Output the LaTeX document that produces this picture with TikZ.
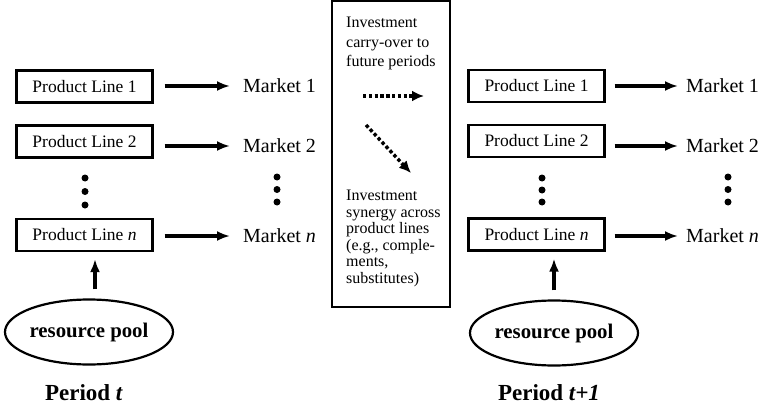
\documentclass[tikz,border=0pt]{standalone}
\usepackage{fontspec}
\setmainfont{Liberation Serif}
\usetikzlibrary{arrows.meta,shapes.geometric}

\tikzset{
  prodbox/.style={draw, line width=2.2pt, minimum width=136pt, minimum height=32pt, inner sep=0pt, font=\fontsize{17.5}{20}\selectfont},
  market/.style={anchor=west, inner sep=0pt, font=\fontsize{20}{22}\selectfont},
  pool/.style={draw, ellipse, line width=2.2pt, minimum width=157pt, minimum height=65pt, inner sep=0pt, font=\fontsize{20.8}{23}\selectfont\bfseries},
  period/.style={inner sep=0pt, font=\fontsize{23}{26}\selectfont\bfseries},
  note/.style={anchor=north west, inner sep=0pt, align=left},
  thickarrow/.style={line width=3.2pt, -{Latex[length=13pt,width=10pt]}},
  dotarrow/.style={line width=3.4pt, dash pattern=on 3.4pt off 2.4pt, -{Latex[length=12pt,width=11pt]}}
}

\begin{document}
\begin{tikzpicture}[x=1pt, y=-1pt]
	\useasboundingbox (0,0) rectangle (767,406);

	% period t
	\node[prodbox] (pla1) at (84.5,86.5) {Product Line 1};
	\node[prodbox] (pla2) at (84.5,141.5) {Product Line 2};
	\node[prodbox] (plan) at (84.5,235) {Product Line \textit{n}};
	\node[market] (ma1) at (243,86) {Market 1};
	\node[market] (ma2) at (243,146) {Market 2};
	\node[market] (man) at (243,236) {Market \textit{n}};
	\draw [thickarrow, shorten <=11pt, shorten >=13pt] (pla1.east |- ma1.west) -- (ma1.west);
	\draw [thickarrow, shorten <=11pt, shorten >=13pt] (pla2.east |- ma2.west) -- (ma2.west);
	\draw [thickarrow, shorten <=11pt, shorten >=13pt] (plan.east |- man.west) -- (man.west);
	\fill (85,178) circle (3.5);
	\fill (85,191.5) circle (3.5);
	\fill (85,205) circle (3.5);
	\fill (277,177) circle (3.5);
	\fill (277,189.5) circle (3.5);
	\fill (277,202) circle (3.5);
	\node[pool] (poola) at (89,332) {resource pool};
	\draw [thickarrow, line width=3.6pt, shorten <=9pt, shorten >=7pt] ([xshift=6pt]poola.north) -- ([xshift=6pt]poola.north |- plan.south);
	\node[period] (pera) at (84,393) {Period \textit{t}};

	% investment box
	\node[draw, line width=2.2pt, minimum width=118pt, minimum height=306pt] (invbox) at (391,154) {};
	\node[note, font=\fontsize{16}{19.5}\selectfont] (carry) at (346,17) {Investment\\carry-over to\\future periods};
	\node[note, font=\fontsize{16}{16.5}\selectfont] (synergy) at (346,190) {Investment\\synergy across\\product lines\\(e.g., comple-\\ments,\\substitutes)};
	\coordinate (ch1) at (363,96);
	\coordinate (ch2) at (424,96);
	\coordinate (cd1) at (366,125);
	\coordinate (cd2) at (411,173);
	\draw [dotarrow] (ch1) -- (ch2);
	\draw [dotarrow] (cd1) -- (cd2);

	% period t+1
	\node[prodbox] (plb1) at (536.5,86) {Product Line 1};
	\node[prodbox] (plb2) at (536.5,141) {Product Line 2};
	\node[prodbox] (plbn) at (536.5,234.5) {Product Line \textit{n}};
	\node[market] (mb1) at (686,86) {Market 1};
	\node[market] (mb2) at (686,146) {Market 2};
	\node[market] (mbn) at (686,236) {Market \textit{n}};
	\draw [thickarrow, shorten <=9pt, shorten >=8pt] (plb1.east |- mb1.west) -- (mb1.west);
	\draw [thickarrow, shorten <=9pt, shorten >=8pt] (plb2.east |- mb2.west) -- (mb2.west);
	\draw [thickarrow, shorten <=9pt, shorten >=8pt] (plbn.east |- mbn.west) -- (mbn.west);
	\fill (542,178) circle (3.5);
	\fill (542,190) circle (3.5);
	\fill (542,202) circle (3.5);
	\fill (728,177) circle (3.5);
	\fill (728,189.5) circle (3.5);
	\fill (728,202) circle (3.5);
	\node[pool] (poolb) at (554,333) {resource pool};
	\draw [thickarrow, line width=3.6pt, shorten <=9pt, shorten >=7pt] (poolb.north) -- (poolb.north |- plbn.south);
	\node[period] (perb) at (549,393) {Period \textit{t+1}};
\end{tikzpicture}
\end{document}
